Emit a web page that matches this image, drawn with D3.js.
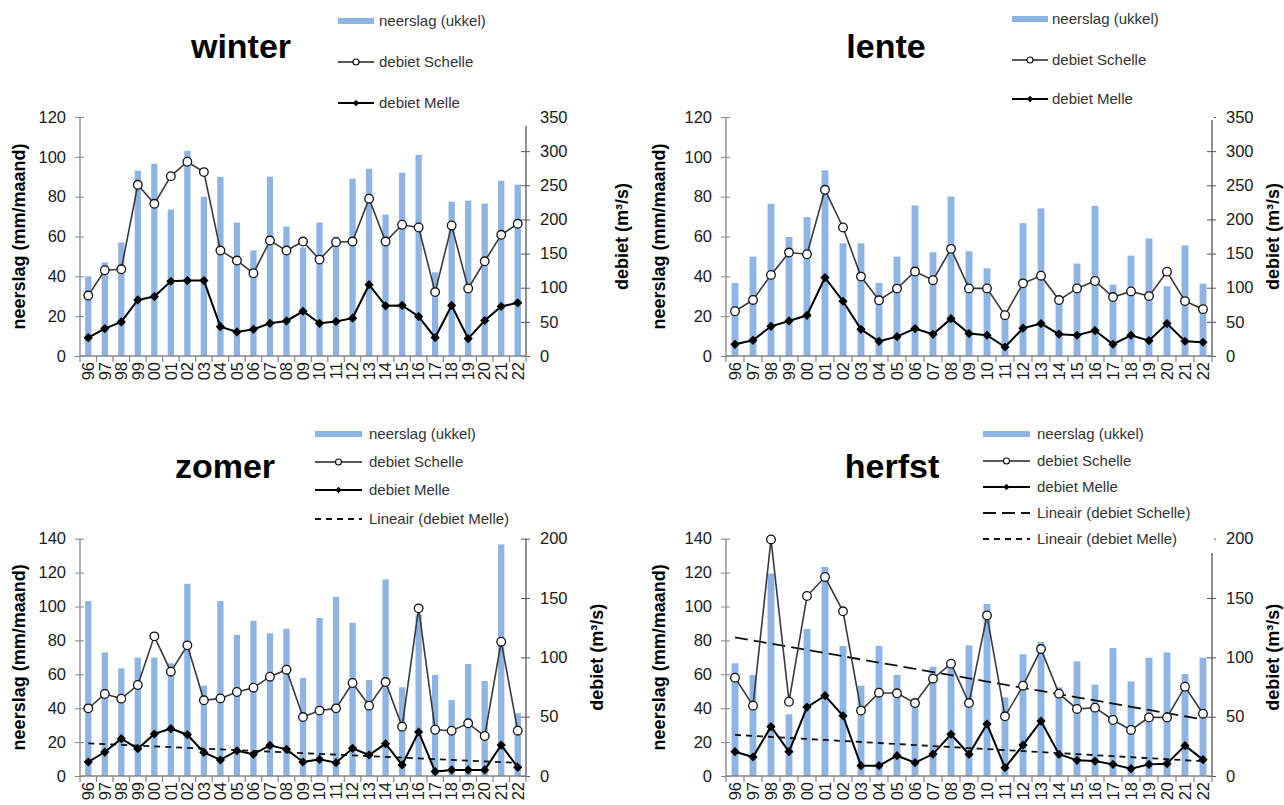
<!DOCTYPE html>
<html>
<head>
<meta charset="utf-8">
<script src="https://cdn.jsdelivr.net/npm/d3@7/dist/d3.min.js"></script>
<style>
  html, body { margin: 0; padding: 0; background: #fff; }
  svg { display: block; font-family: "Liberation Sans", Arial, sans-serif; }
</style>
</head>
<body>
<svg id="chart" width="1284" height="805"></svg>
<script>
// Seasonal precipitation (Ukkel) and discharge of the Scheldt at Schelle and Melle, 1996–2022
const years = ["96","97","98","99","00","01","02","03","04","05","06","07","08","09",
               "10","11","12","13","14","15","16","17","18","19","20","21","22"];

// winter
const winterRain    = [40,47,57,93,96.5,73.5,103,80,90,67,53,90,65,54.5,67,60,89,94,71,92,101,42,77.5,78,76.5,88,86];
const winterSchelle = [88.5,125.6,127,250.7,222.9,263.4,284.5,269.3,154.4,139.8,121.2,169.1,154.4,167.6,141.2,166.7,167.6,230.4,167.6,192.2,188.2,93.6,191.2,99,138.7,177.5,193.6];
const winterMelle   = [26.9,40.1,49.9,82.1,87,109.5,110.5,110.5,43,35.2,39.1,47.9,51.3,65.5,47.9,50.5,55.4,104.4,73.5,74,57.8,27,74,25.5,52,72.5,77.9];

// lente
const lenteRain    = [36.7,49.9,76.4,59.8,69.7,93.2,56.6,56.6,36.7,49.9,75.6,52.1,80.1,52.6,44,19,66.7,74.1,28,46.4,75.3,35.8,50.4,59,35,55.5,36.3];
const lenteSchelle = [65.5,82.1,118.8,151.5,149,243.4,188.2,116.3,81.6,98.7,123.7,111,156.9,99,99,59.8,106.4,117.6,81.9,99,109.8,86.3,94.6,87.7,123.5,80.4,68.6];
const lenteMelle   = [17.1,23,43.5,51.3,59.6,114.9,80.2,39.1,21.5,28.3,40.1,31.8,54.7,32.8,30.4,13.2,40.7,47.5,31.9,30.4,37.3,17.2,30.4,22.5,47.5,21.6,20.1];

// zomer
const zomerRain    = [103.2,72.9,63.5,69.8,69.8,66.5,113.4,53.3,103.2,83.2,91.6,84.2,86.9,57.8,93.2,105.8,90.4,56.6,116,52.3,95,59.6,44.8,66.1,56,136.6,37];
const zomerSchelle = [57,69.1,65.2,76.7,117.7,87.9,110.1,63.8,65.4,70.8,74.4,83.7,89.6,49.7,55.1,57,78.4,59.3,79.2,41.6,141.3,39,38.2,44.4,33.7,113.2,38.2];
const zomerMelle   = [11.8,20.2,31.5,23,35.4,39.9,34.8,19.9,13.5,21.3,18.3,25.8,22.5,11.8,14,11.2,23.3,17.7,27.2,9.3,37.1,3.7,5.1,5.1,5.1,26.1,7.3];

// herfst
const herfstRain    = [66.5,59.6,119.5,36.4,86.7,123.3,76.7,53.3,76.7,59.6,42,64.5,64.5,77.1,101.5,46.4,71.8,79.2,52.3,67.6,53.9,75.5,55.8,69.8,72.9,60.2,69.8];
const herfstSchelle = [82.9,59.3,199.4,62.6,151.7,167.7,138.8,55.1,70.2,69.7,61.5,82,94.7,61.5,135.4,50.3,76.1,107,69.4,56.5,57.6,47.2,38.8,49.4,49.4,75.3,52.5];
const herfstMelle   = [20.5,16,41.6,20.5,58.1,67.7,50.8,8.7,8.7,17.1,11.2,18.5,35.1,18.3,43.8,7,26.1,46.3,18.3,13.2,12.6,9.8,6.2,9.8,10.4,25.6,13.8];

// axis ticks
const rainTicks120 = [0,20,40,60,80,100,120];
const rainTicks140 = [0,20,40,60,80,100,120,140];
const flowTicks350 = [0,50,100,150,200,250,300,350];
const flowTicks200 = [0,50,100,150,200];

// legend labels
const lblRain = "neerslag (ukkel)";
const lblSchelle = "debiet Schelle";
const lblMelle = "debiet Melle";
const lblTrendSchelle = "Lineair (debiet Schelle)";
const lblTrendMelle = "Lineair (debiet Melle)";

const BAR = "#8db4e3";
const svg = d3.select("#chart");

// least-squares line through a series (Excel "Lineair" trendline)
function linearFit(vals) {
  const n = vals.length;
  const xm = (n - 1) / 2;
  const ym = d3.mean(vals);
  let sxy = 0, sxx = 0;
  vals.forEach((v, i) => { sxy += (i - xm) * (v - ym); sxx += (i - xm) * (i - xm); });
  const b = sxy / sxx, a = ym - b * xm;
  return vals.map((_, i) => a + b * i);
}

const panels = [
  { title: "winter", tx: 241, ty: 58, x0: 80, x1: 526, yT: 117, yB: 356,
    rain: winterRain, schelle: winterSchelle, melle: winterMelle,
    lTicks: rainTicks120, rTicks: flowTicks350, leftLabelX: 19, rightLabelX: 622,
    trends: [],
    legend: { box: [330, 0, 202, 126], sx: 338, sw: 36, tx: 379, rows: [21, 62, 103] } },
  { title: "lente", tx: 886, ty: 58, x0: 726, x1: 1212, yT: 117, yB: 356,
    rain: lenteRain, schelle: lenteSchelle, melle: lenteMelle,
    lTicks: rainTicks120, rTicks: flowTicks350, leftLabelX: 659, rightLabelX: 1273,
    trends: [],
    legend: { box: [1005, 0, 209, 120], sx: 1012, sw: 36, tx: 1052, rows: [19, 60, 99] } },
  { title: "zomer", tx: 225, ty: 478, x0: 80, x1: 526, yT: 538.7, yB: 776,
    rain: zomerRain, schelle: zomerSchelle, melle: zomerMelle,
    lTicks: rainTicks140, rTicks: flowTicks200, leftLabelX: 19, rightLabelX: 597,
    trends: ["melle"],
    legend: { box: null, sx: 315, sw: 47, tx: 369, rows: [434, 462, 490, 519] } },
  { title: "herfst", tx: 892, ty: 478, x0: 726, x1: 1212, yT: 538.7, yB: 776,
    rain: herfstRain, schelle: herfstSchelle, melle: herfstMelle,
    lTicks: rainTicks140, rTicks: flowTicks200, leftLabelX: 659, rightLabelX: 1273,
    trends: ["schelle", "melle"],
    legend: { box: [975, 420, 239, 133], sx: 983, sw: 47, tx: 1037, rows: [434, 461, 487, 513, 539] } }
];

const diamond = r => `M0,${-r}L${r},0L0,${r}L${-r},0Z`;
const trendStyle = { schelle: "13,6", melle: "6,5" };

panels.forEach(p => {
  const g = svg.append("g");
  const x = d3.scaleBand().domain(years).range([p.x0, p.x1]).paddingInner(0).paddingOuter(0);
  const yL = d3.scaleLinear().domain([0, d3.max(p.lTicks)]).range([p.yB, p.yT]);
  const yR = d3.scaleLinear().domain([0, d3.max(p.rTicks)]).range([p.yB, p.yT]);
  const cx = d => x(d) + x.bandwidth() / 2;
  const bw = x.bandwidth() * 0.38;

  // bars
  g.append("g").selectAll("rect").data(p.rain).join("rect")
    .attr("x", (d, i) => cx(years[i]) - bw / 2)
    .attr("y", d => yL(d))
    .attr("width", bw)
    .attr("height", d => yL(0) - yL(d))
    .attr("fill", BAR);

  // left axis
  const la = g.append("g").attr("transform", `translate(${p.x0},0)`)
    .call(d3.axisLeft(yL).tickValues(p.lTicks).tickSize(5).tickPadding(9));
  la.select(".domain").attr("stroke", "#868686").attr("stroke-width", 1.3).attr("d", `M0,${p.yT}V${p.yB}`);
  la.selectAll(".tick line").attr("stroke", "#868686").attr("x1", -5).attr("x2", 4);
  la.selectAll(".tick text").attr("font-size", 16.5).attr("fill", "#1a1a1a").attr("font-family", "Liberation Sans, Arial");

  // right axis
  const ra = g.append("g").attr("transform", `translate(${p.x1},0)`)
    .call(d3.axisRight(yR).tickValues(p.rTicks).tickSize(5).tickPadding(9));
  ra.select(".domain").attr("stroke", "#555").attr("stroke-width", 1.3).attr("d", `M0,${p.yT}V${p.yB}`);
  ra.selectAll(".tick line").attr("stroke", "#555").attr("x1", -5).attr("x2", 4);
  ra.selectAll(".tick text").attr("font-size", 16.5).attr("fill", "#1a1a1a").attr("font-family", "Liberation Sans, Arial");

  // category axis with ticks between the years
  g.append("line").attr("x1", p.x0).attr("x2", p.x1).attr("y1", p.yB).attr("y2", p.yB)
    .attr("stroke", "#868686").attr("stroke-width", 1.3);
  g.append("g").selectAll("line").data(d3.range(years.length + 1)).join("line")
    .attr("x1", i => p.x0 + i * x.bandwidth()).attr("x2", i => p.x0 + i * x.bandwidth())
    .attr("y1", p.yB).attr("y2", p.yB + 6)
    .attr("stroke", "#868686").attr("stroke-width", 1.2);
  g.append("g").selectAll("text").data(years).join("text")
    .attr("transform", d => `translate(${cx(d)},${p.yB + 6}) rotate(-90)`)
    .attr("text-anchor", "end").attr("dy", "0.35em")
    .attr("font-size", 16.5).attr("fill", "#1a1a1a")
    .text(d => d);

  // trend lines
  p.trends.forEach(k => {
    const fit = linearFit(p[k]);
    g.append("path")
      .attr("d", d3.line().x((d, i) => cx(years[i])).y(d => yR(d))(fit))
      .attr("fill", "none").attr("stroke", "#111").attr("stroke-width", 1.8)
      .attr("stroke-dasharray", trendStyle[k]);
  });

  // Schelle line + open circles
  g.append("path")
    .attr("d", d3.line().x((d, i) => cx(years[i])).y(d => yR(d))(p.schelle))
    .attr("fill", "none").attr("stroke", "#3a3a3a").attr("stroke-width", 1.6);
  g.append("g").selectAll("circle").data(p.schelle).join("circle")
    .attr("cx", (d, i) => cx(years[i])).attr("cy", d => yR(d)).attr("r", 4.3)
    .attr("fill", "#fff").attr("stroke", "#111").attr("stroke-width", 1.3);

  // Melle line + diamonds
  g.append("path")
    .attr("d", d3.line().x((d, i) => cx(years[i])).y(d => yR(d))(p.melle))
    .attr("fill", "none").attr("stroke", "#000").attr("stroke-width", 2);
  g.append("g").selectAll("path").data(p.melle).join("path")
    .attr("transform", (d, i) => `translate(${cx(years[i])},${yR(d)})`)
    .attr("d", diamond(4.6)).attr("fill", "#000");

  // axis titles
  g.append("text")
    .attr("transform", `translate(${p.leftLabelX},${(p.yT + p.yB) / 2}) rotate(-90)`)
    .attr("text-anchor", "middle").attr("dy", "0.35em")
    .attr("font-size", 18).attr("font-weight", "bold").attr("fill", "#000")
    .text("neerslag (mm/maand)");
  g.append("text")
    .attr("transform", `translate(${p.rightLabelX},${(p.yT + p.yB) / 2}) rotate(-90)`)
    .attr("text-anchor", "middle").attr("dy", "0.35em")
    .attr("font-size", 18).attr("font-weight", "bold").attr("fill", "#000")
    .text("debiet (m³/s)");

  // panel title
  g.append("text").attr("x", p.tx).attr("y", p.ty).attr("text-anchor", "middle")
    .attr("font-size", 34).attr("font-weight", "bold").attr("fill", "#000")
    .text(p.title);

  // legend
  const L = p.legend;
  const lg = g.append("g");
  if (L.box) lg.append("rect").attr("x", L.box[0]).attr("y", L.box[1])
    .attr("width", L.box[2]).attr("height", L.box[3]).attr("fill", "#fff");
  const items = [
    { type: "bar", label: lblRain },
    { type: "schelle", label: lblSchelle },
    { type: "melle", label: lblMelle }
  ];
  p.trends.forEach(k => items.push({ type: "trend-" + k, label: k === "schelle" ? lblTrendSchelle : lblTrendMelle }));
  items.forEach((it, i) => {
    const y = L.rows[i];
    const mid = L.sx + L.sw / 2;
    if (it.type === "bar") {
      lg.append("rect").attr("x", L.sx).attr("y", y - 3).attr("width", L.sw).attr("height", 6).attr("fill", BAR);
    } else if (it.type === "schelle") {
      lg.append("line").attr("x1", L.sx).attr("x2", L.sx + L.sw).attr("y1", y).attr("y2", y)
        .attr("stroke", "#222").attr("stroke-width", 1.5);
      lg.append("circle").attr("cx", mid).attr("cy", y).attr("r", 3)
        .attr("fill", "#fff").attr("stroke", "#111").attr("stroke-width", 1.2);
    } else if (it.type === "melle") {
      lg.append("line").attr("x1", L.sx).attr("x2", L.sx + L.sw).attr("y1", y).attr("y2", y)
        .attr("stroke", "#000").attr("stroke-width", 1.8);
      lg.append("path").attr("transform", `translate(${mid},${y})`).attr("d", diamond(3.2)).attr("fill", "#000");
    } else {
      const k = it.type.slice(6);
      lg.append("line").attr("x1", L.sx).attr("x2", L.sx + L.sw).attr("y1", y).attr("y2", y)
        .attr("stroke", "#111").attr("stroke-width", 1.8)
        .attr("stroke-dasharray", trendStyle[k]);
    }
    lg.append("text").attr("x", L.tx).attr("y", y).attr("dy", "0.35em")
      .attr("font-size", 15).attr("fill", "#333").text(it.label);
  });
});
</script>
</body>
</html>
